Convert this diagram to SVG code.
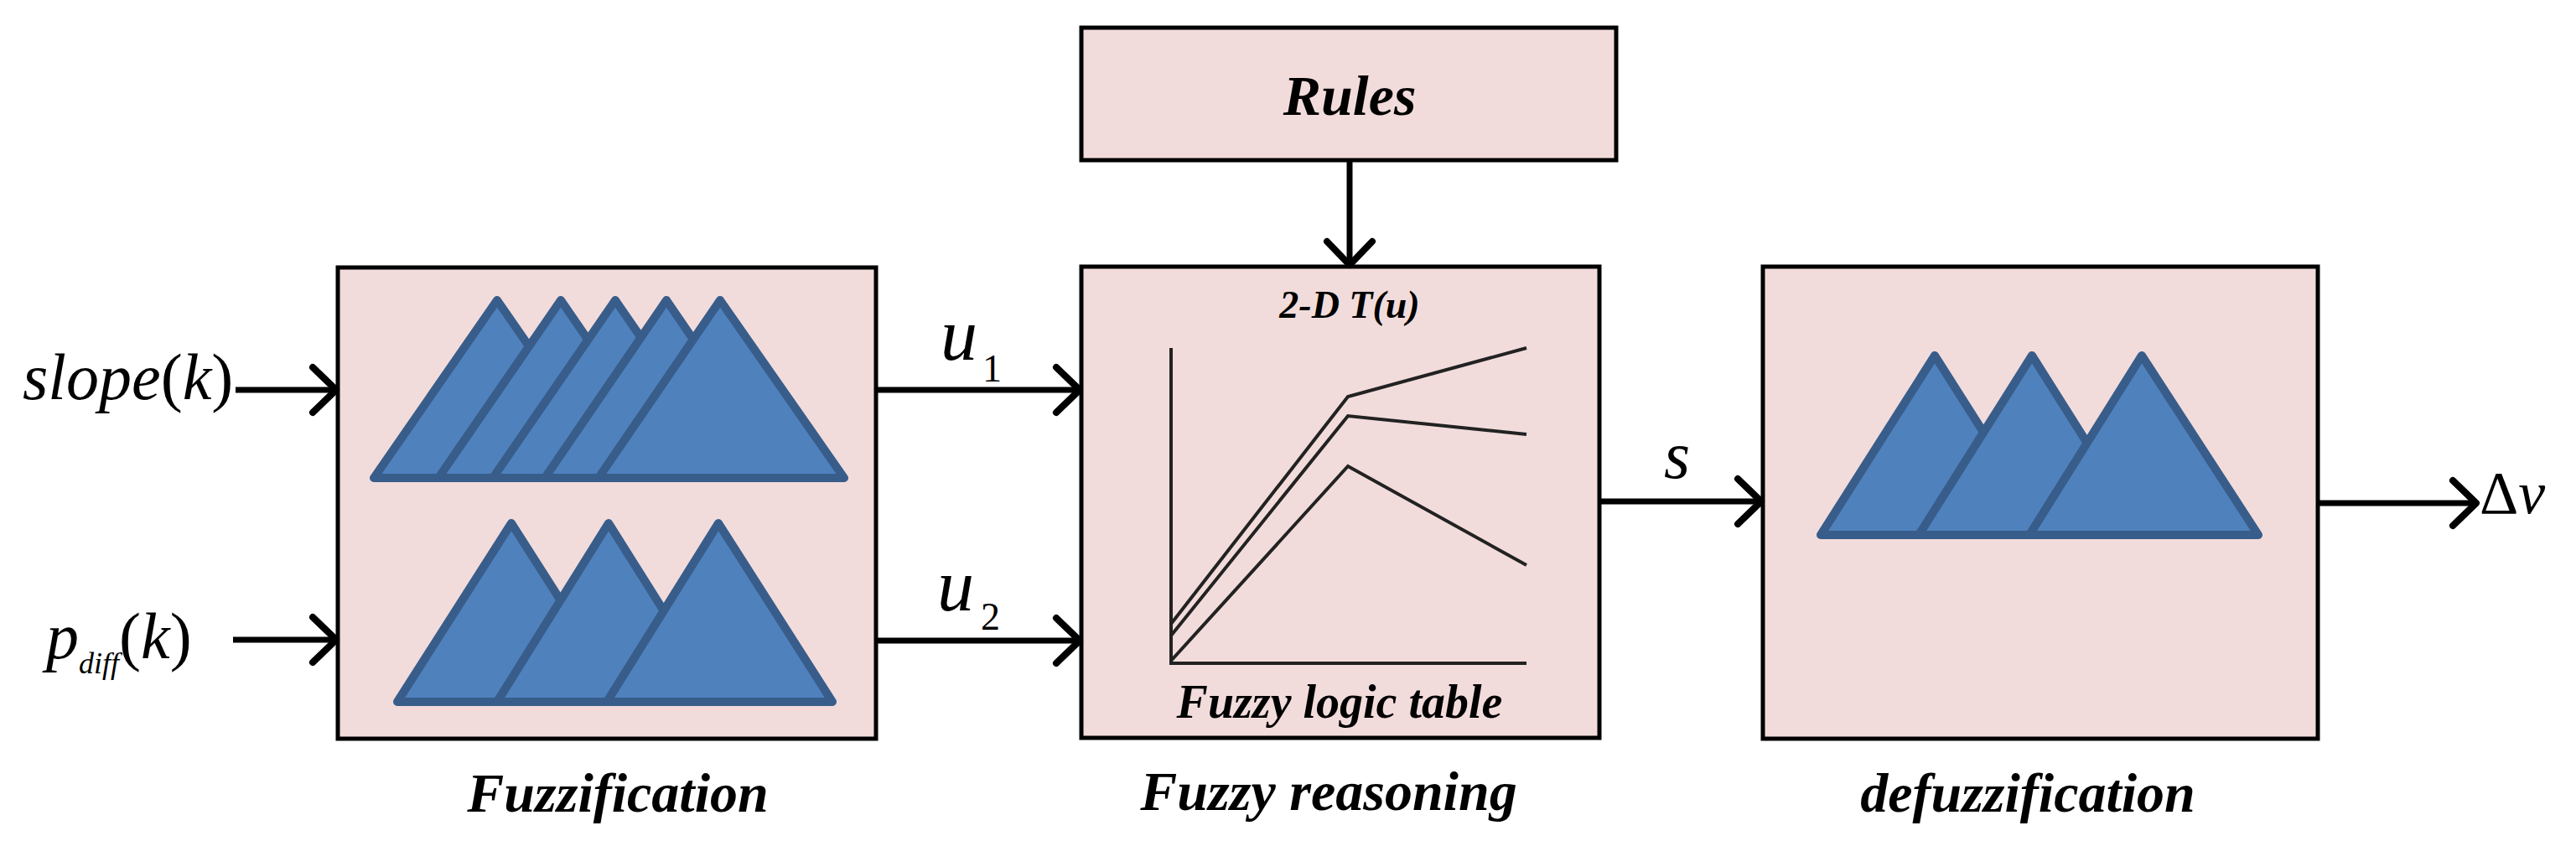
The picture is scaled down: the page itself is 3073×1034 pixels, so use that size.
<svg xmlns="http://www.w3.org/2000/svg" width="3073" height="1034" viewBox="0 0 3073 1034">
<defs>
<style>
.box{fill:#F2DCDB;stroke:#000;stroke-width:5}
.tri{fill:#4F81BD;stroke:#385D8A;stroke-width:10;stroke-linejoin:round}
.con{stroke:#000;stroke-width:7;fill:none}
.plot{stroke:#222;stroke-width:4;fill:none}
.lbl{font-family:"Liberation Serif",serif;font-weight:bold;font-style:italic;text-anchor:middle}
.math{font-family:"Liberation Serif",serif;font-style:italic}
</style>
<marker id="ah" markerUnits="userSpaceOnUse" viewBox="-40 -40 50 80" markerWidth="50" markerHeight="80" refX="0" refY="0" orient="auto" overflow="visible">
<path d="M-28,-27 L0,0 L-28,27" stroke="#000" stroke-width="8" fill="none" stroke-linecap="round" stroke-linejoin="round"/>
</marker>
</defs>
<rect width="3073" height="1034" fill="#fff"/>
<g id="fuzzification">
<rect class="box" x="403" y="319" width="642" height="562"/>
<polygon class="tri" points="446,570 593,358 740,570"/>
<polygon class="tri" points="523,570 669,358 815,570"/>
<polygon class="tri" points="588,570 734,358 880,570"/>
<polygon class="tri" points="650,570 795,358 940,570"/>
<polygon class="tri" points="714,570 859,358 1007,570"/>
<polygon class="tri" points="474,837 610,624 746,837"/>
<polygon class="tri" points="593,837 726,624 860,837"/>
<polygon class="tri" points="724,837 857,624 993,837"/>
<text class="lbl" x="737" y="968" font-size="66">Fuzzification</text>
</g>
<g id="rules">
<rect class="box" x="1290" y="33" width="638" height="158"/>
<text class="lbl" x="1610" y="137" font-size="68">Rules</text>
</g>
<g id="reasoning">
<rect class="box" x="1290" y="318" width="618" height="562"/>
<text class="lbl" x="1610" y="379" font-size="46">2-D T(u)</text>
<polyline class="plot" points="1397,415 1397,791 1821,791"/>
<polyline class="plot" points="1397,744 1608,473 1821,415"/>
<polyline class="plot" points="1397,758 1608,496 1821,518"/>
<polyline class="plot" points="1397,788 1608,556 1821,674"/>
<text class="lbl" x="1598" y="856" font-size="56">Fuzzy logic table</text>
<text class="lbl" x="1585" y="966" font-size="66">Fuzzy reasoning</text>
</g>
<g id="defuzzification">
<rect class="box" x="2103" y="318" width="662" height="563"/>
<polygon class="tri" points="2172,638 2308,424 2444,638"/>
<polygon class="tri" points="2289,638 2424,424 2559,638"/>
<polygon class="tri" points="2421,638 2555,424 2694,638"/>
<text class="lbl" x="2419" y="968" font-size="66">defuzzification</text>
</g>
<g id="connectors">
<line class="con" x1="281" y1="465" x2="401" y2="465" marker-end="url(#ah)"/>
<line class="con" x1="278" y1="763" x2="401" y2="763" marker-end="url(#ah)"/>
<line class="con" x1="1045" y1="465" x2="1288" y2="465" marker-end="url(#ah)"/>
<line class="con" x1="1045" y1="764" x2="1288" y2="764" marker-end="url(#ah)"/>
<line class="con" x1="1610" y1="191" x2="1610" y2="316" marker-end="url(#ah)"/>
<line class="con" x1="1908" y1="598" x2="2101" y2="598" marker-end="url(#ah)"/>
<line class="con" x1="2765" y1="600" x2="2954" y2="600" marker-end="url(#ah)"/>
</g>
<g id="labels">
<text class="math" x="27" y="476" font-size="78">slope<tspan font-style="normal">(</tspan>k<tspan font-style="normal">)</tspan></text>
<text class="math" x="55" y="785" font-size="78">p<tspan font-size="36" dy="18">diff</tspan><tspan dy="-18" font-style="normal">(</tspan>k<tspan font-style="normal">)</tspan></text>
<text class="math" x="1122" y="429" font-size="88">u<tspan font-style="normal" font-size="46" dx="6" dy="26">1</tspan></text>
<text class="math" x="1118" y="728" font-size="88">u<tspan font-style="normal" font-size="46" dx="8" dy="23">2</tspan></text>
<text class="math" x="1985" y="570" font-size="80">s</text>
<text class="math" x="2958" y="612" font-size="72"><tspan font-style="normal">Δ</tspan>v</text>
</g>
</svg>
